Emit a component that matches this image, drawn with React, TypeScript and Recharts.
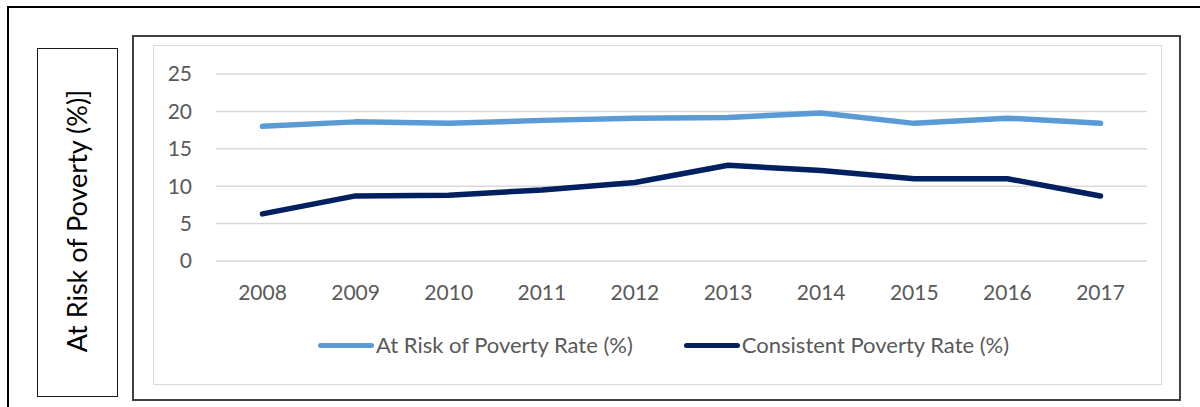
import { LineChart, Line, XAxis, YAxis, CartesianGrid, Legend } from 'recharts';

const years = ['2008', '2009', '2010', '2011', '2012', '2013', '2014', '2015', '2016', '2017'];
const atRiskRate = [18.0, 18.6, 18.4, 18.8, 19.1, 19.2, 19.8, 18.4, 19.1, 18.4];
const consistentRate = [6.3, 8.7, 8.8, 9.5, 10.5, 12.8, 12.1, 11.0, 11.0, 8.7];
const yTicks = [0, 5, 10, 15, 20, 25];

const data = years.map((year, i) => ({
  year,
  atRisk: atRiskRate[i],
  consistent: consistentRate[i],
}));

const FONT = 'Lato, "Open Sans", sans-serif';

function LegendContent({ payload }: any) {
  return (
    <div style={{ display: 'flex', alignItems: 'center', fontFamily: FONT, fontSize: 22, color: '#595959' }}>
      {(payload || []).map((entry: any, i: number) => (
        <div key={entry.value} style={{ display: 'flex', alignItems: 'center', marginRight: i === 0 ? 51 : 0 }}>
          <span
            style={{
              display: 'inline-block',
              width: 56,
              height: 5,
              borderRadius: 3,
              marginRight: 2,
              background: entry.color,
            }}
          />
          <span style={{ lineHeight: '28px', whiteSpace: 'nowrap' }}>{entry.value}</span>
        </div>
      ))}
    </div>
  );
}

export default function App() {
  return (
    <div style={{ position: 'absolute', left: 0, top: 0, width: 1200, height: 407, overflow: 'hidden', background: '#fff' }}>
      {/* outer frame */}
      <div style={{ position: 'absolute', left: 7, top: 6, width: 1200, height: 420, border: '2px solid #000', boxSizing: 'border-box' }} />

      {/* axis title box */}
      <div style={{ position: 'absolute', left: 37, top: 48, width: 81, height: 349, border: '1px solid #1a1a1a', boxSizing: 'border-box' }} />
      <div style={{ position: 'absolute', left: 77, top: 221, width: 0, height: 0 }}>
        <div
          style={{
            position: 'absolute',
            left: 0,
            top: 0,
            transform: 'translate(-50%, -50%) rotate(-90deg)',
            whiteSpace: 'nowrap',
            fontFamily: FONT,
            fontSize: 27,
            lineHeight: '32px',
            color: '#000',
          }}
        >
          At Risk of Poverty (%)]
        </div>
      </div>

      {/* chart frame */}
      <div style={{ position: 'absolute', left: 132, top: 35, width: 1049, height: 366, border: '2px solid #404040', boxSizing: 'border-box' }} />
      <div style={{ position: 'absolute', left: 153, top: 45, width: 1009, height: 340, border: '1px solid #d9d9d9', boxSizing: 'border-box' }} />

      <div style={{ position: 'absolute', left: 153, top: 45 }}>
        <LineChart width={1008} height={339} data={data} margin={{ top: 29, right: 14, left: 0, bottom: 83 }}>
          <CartesianGrid vertical={false} stroke="#d9d9d9" strokeWidth={1.5} />
          <XAxis
            dataKey="year"
            axisLine={false}
            tickLine={false}
            tickSize={0}
            tickMargin={24}
            height={40}
            interval={0}
            padding={{ left: 46.5, right: 46.5 }}
            tick={{ fill: '#595959', fontSize: 21, fontFamily: FONT }}
          />
          <YAxis
            domain={[0, 25]}
            ticks={yTicks}
            axisLine={false}
            tickLine={false}
            tickSize={0}
            tickMargin={24}
            width={63}
            tick={{ fill: '#595959', fontSize: 21, fontFamily: FONT }}
          />
          <Legend
            layout="horizontal"
            verticalAlign="middle"
            align="center"
            content={<LegendContent />}
            wrapperStyle={{ top: 286, left: 165, width: 'auto' }}
          />
          <Line
            type="linear"
            dataKey="atRisk"
            name="At Risk of Poverty Rate (%)"
            stroke="#5b9bd5"
            strokeWidth={5.5}
            strokeLinecap="round"
            strokeLinejoin="round"
            dot={false}
            activeDot={false}
            isAnimationActive={false}
          />
          <Line
            type="linear"
            dataKey="consistent"
            name="Consistent Poverty Rate (%)"
            stroke="#002060"
            strokeWidth={5.5}
            strokeLinecap="round"
            strokeLinejoin="round"
            dot={false}
            activeDot={false}
            isAnimationActive={false}
          />
        </LineChart>
      </div>
    </div>
  );
}
